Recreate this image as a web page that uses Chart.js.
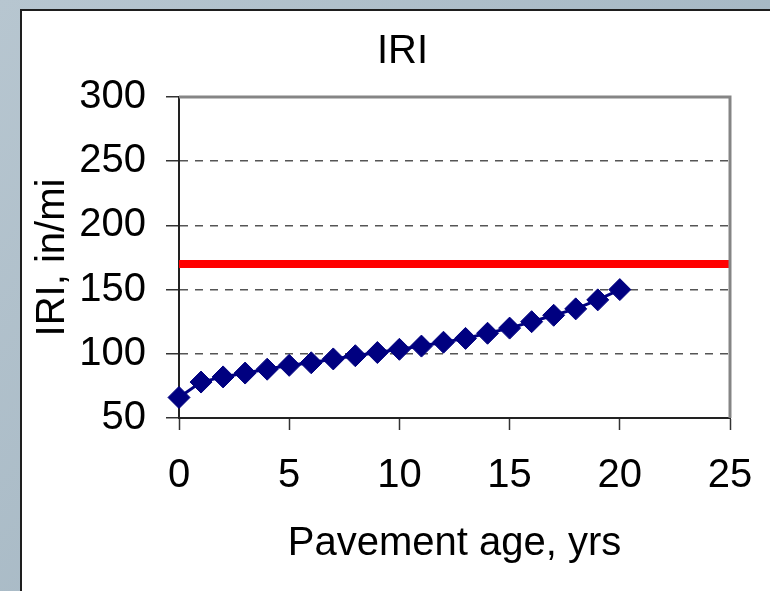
<!DOCTYPE html>
<html>
<head>
<meta charset="utf-8">
<script src="https://cdn.jsdelivr.net/npm/chart.js@4/dist/chart.umd.min.js"></script>
<style>
    html, body {
        margin: 0;
        width: 770px;
        height: 591px;
        overflow: hidden;
        background: linear-gradient(135deg, #b7c6d0 0%, #a6b8c4 60%, #a9bbc6 100%);
    }
    #frame {
        position: absolute;
        left: 20px;
        top: 9px;
        width: 800px;
        height: 620px;
        border: 2px solid #1e1e1e;
        background: #fff;
    }
    #box {
        position: absolute;
        left: 0;
        top: 0;
        width: 761px;
        height: 580px;
    }
</style>
</head>
<body>
<div id="frame"><div id="box"><canvas id="chart"></canvas></div></div>
<script>
"use strict";

// pavement age, yrs
const ages = [0, 1, 2, 3, 4, 5, 6, 7, 8, 9, 10, 11, 12, 13, 14, 15, 16, 17, 18, 19, 20];
// IRI, in/mi
const iriValues = [66, 78, 82, 85, 88, 91, 93, 96, 98.5, 101, 103.5, 106, 109, 112, 116, 120, 125, 130, 135, 142, 150];
// threshold line
const limitAges = [0, 25];
const limitValues = [170, 170];

const xTicks = [0, 5, 10, 15, 20, 25];
const yTicks = [50, 100, 150, 200, 250, 300];

const kFont = "'Liberation Sans', Arial, sans-serif";

function toPoints(xs, ys) {
    return xs.map((x, i) => ({ x, y: ys[i] }));
}

// gray frame on top and right of the plot area
const plotFrame = {
    id: "plotFrame",
    afterDatasetsDraw(chart) {
        const { ctx, chartArea: { left, top, right, bottom } } = chart;
        ctx.save();
        ctx.strokeStyle = "#858585";
        ctx.lineWidth = 3;
        ctx.beginPath();
        ctx.moveTo(left, top);
        ctx.lineTo(right, top);
        ctx.lineTo(right, bottom);
        ctx.stroke();
        ctx.restore();
    }
};

new Chart(document.getElementById("chart").getContext("2d"), {
    type: "line",
    data: {
        datasets: [
            {
                data: toPoints(ages, iriValues),
                borderColor: "#000080",
                backgroundColor: "#000080",
                borderWidth: 3,
                pointStyle: "rectRot",
                pointRadius: 11,
                pointBorderWidth: 1,
                pointBorderColor: "#000080",
                pointBackgroundColor: "#000080",
                tension: 0,
                clip: false
            },
            {
                data: toPoints(limitAges, limitValues),
                borderColor: "#ff0000",
                borderWidth: 8,
                pointRadius: 0
            }
        ]
    },
    options: {
        responsive: true,
        maintainAspectRatio: false,
        animation: false,
        layout: {
            padding: 0
        },
        plugins: {
            legend: { display: false },
            tooltip: { enabled: false },
            title: {
                display: true,
                text: "IRI",
                color: "#000",
                font: { family: kFont, size: 40, weight: "normal" },
                padding: { top: 17, bottom: 21 }
            }
        },
        scales: {
            x: {
                type: "linear",
                min: 0,
                max: 25,
                afterBuildTicks(scale) {
                    scale.ticks = xTicks.map(value => ({ value }));
                },
                afterFit(scale) {
                    scale.height = 173;
                },
                border: { color: "#222", width: 2 },
                grid: {
                    drawOnChartArea: false,
                    tickLength: 12,
                    tickColor: "#333",
                    tickWidth: 1.5
                },
                ticks: {
                    color: "#000",
                    padding: 22,
                    maxRotation: 0,
                    font: { family: kFont, size: 40 }
                },
                title: {
                    display: true,
                    text: "Pavement age, yrs",
                    color: "#000",
                    font: { family: kFont, size: 40 },
                    padding: { top: 0, bottom: 23 }
                }
            },
            y: {
                min: 50,
                max: 300,
                afterBuildTicks(scale) {
                    scale.ticks = yTicks.map(value => ({ value }));
                },
                afterFit(scale) {
                    scale.width = 157;
                },
                border: { color: "#222", width: 2, dash: [8, 7] },
                grid: {
                    color: (ctx) => (ctx.tick && (ctx.tick.value === 50 || ctx.tick.value === 300) ? "rgba(0,0,0,0)" : "#555"),
                    lineWidth: 1.5,
                    tickBorderDash: [],
                    tickLength: 13,
                    tickColor: "#333",
                    tickWidth: 1.5
                },
                ticks: {
                    color: "#000",
                    padding: 20,
                    font: { family: kFont, size: 40 }
                },
                title: {
                    display: true,
                    text: "IRI, in/mi",
                    color: "#000",
                    font: { family: kFont, size: 40 },
                    padding: { top: 7, bottom: 0 }
                }
            },
            // empty right axis that keeps space to the right of the plot
            yRight: {
                position: "right",
                min: 50,
                max: 300,
                afterFit(scale) {
                    scale.width = 53;
                },
                border: { display: false },
                grid: { display: false },
                ticks: { display: false }
            }
        }
    },
    plugins: [plotFrame]
});
</script>
</body>
</html>
